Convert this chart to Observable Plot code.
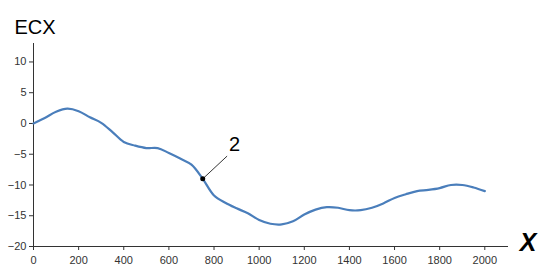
<!DOCTYPE html>
<html>
<head>
<meta charset="utf-8">
<script src="https://cdn.jsdelivr.net/npm/d3@7"></script>
<script src="https://cdn.jsdelivr.net/npm/@observablehq/plot@0.6"></script>
<style>
  html, body { margin: 0; padding: 0; background: #fff; }
  #chart svg { display: block; }
</style>
</head>
<body>
<div id="chart"></div>
<script>
const xs = [0, 50, 100, 150, 200, 250, 300, 350, 400, 450, 500, 550, 600, 650, 700, 750, 800, 850, 900, 950, 1000, 1050, 1100, 1150, 1200, 1250, 1300, 1350, 1400, 1450, 1500, 1550, 1600, 1650, 1700, 1750, 1800, 1850, 1900, 1950, 2000];
const ecx = [0, 0.9, 1.9, 2.4, 2.0, 1.0, 0.1, -1.4, -3.0, -3.6, -4.0, -4.0, -4.8, -5.7, -6.7, -9.0, -11.7, -12.9, -13.8, -14.6, -15.7, -16.3, -16.4, -15.9, -14.8, -14.0, -13.6, -13.7, -14.1, -14.1, -13.7, -13.0, -12.1, -11.5, -11.0, -10.8, -10.5, -10.0, -10.0, -10.4, -11.0];
const xTicks = [0, 200, 400, 600, 800, 1000, 1200, 1400, 1600, 1800, 2000];
const yTicks = [-20, -15, -10, -5, 0, 5, 10];
const marker = [{x: 750, y: -9, label: "2", lx: 858, ly: -5.3, tx: 891, ty: -3.5}];

const data = xs.map((x, i) => ({x, y: ecx[i]}));

const plot = Plot.plot({
  width: 544,
  height: 275,
  marginLeft: 33,
  marginRight: 36,
  marginTop: 43,
  marginBottom: 29,
  style: {fontFamily: "Liberation Sans, Arial, sans-serif", background: "#fff"},
  x: {domain: [0, 2105]},
  y: {domain: [-20, 13]},
  marks: [
    Plot.ruleX([0], {stroke: "#333", strokeWidth: 1}),
    Plot.ruleY([-20], {stroke: "#333", strokeWidth: 1}),
    Plot.axisY({ticks: yTicks, tickSize: 4, tickPadding: 3, fontSize: 11, color: "#333", stroke: "#333", label: null}),
    Plot.axisX({ticks: xTicks, tickFormat: d => String(d), tickSize: 4, tickPadding: 6, fontSize: 11, color: "#333", stroke: "#333", label: null}),
    Plot.line(data, {x: "x", y: "y", stroke: "#4a7ebb", strokeWidth: 2.2, curve: "catmull-rom"}),
    Plot.link(marker, {x1: "x", y1: "y", x2: "lx", y2: "ly", stroke: "#000", strokeWidth: 0.8}),
    Plot.dot(marker, {x: "x", y: "y", r: 2.5, fill: "#000"}),
    Plot.text(marker, {x: "tx", y: "ty", text: "label", fontSize: 20, fill: "#000"}),
    Plot.text(["ECX"], {frameAnchor: "top-left", dx: -19, dy: -24, fontSize: 20, fill: "#000", textAnchor: "start"}),
    Plot.text(["X"], {frameAnchor: "bottom-right", dx: 28, dy: 4, fontSize: 25, fontWeight: "bold", fontStyle: "italic", fill: "#000", textAnchor: "end"})
  ]
});
document.getElementById("chart").appendChild(plot);
</script>
</body>
</html>
